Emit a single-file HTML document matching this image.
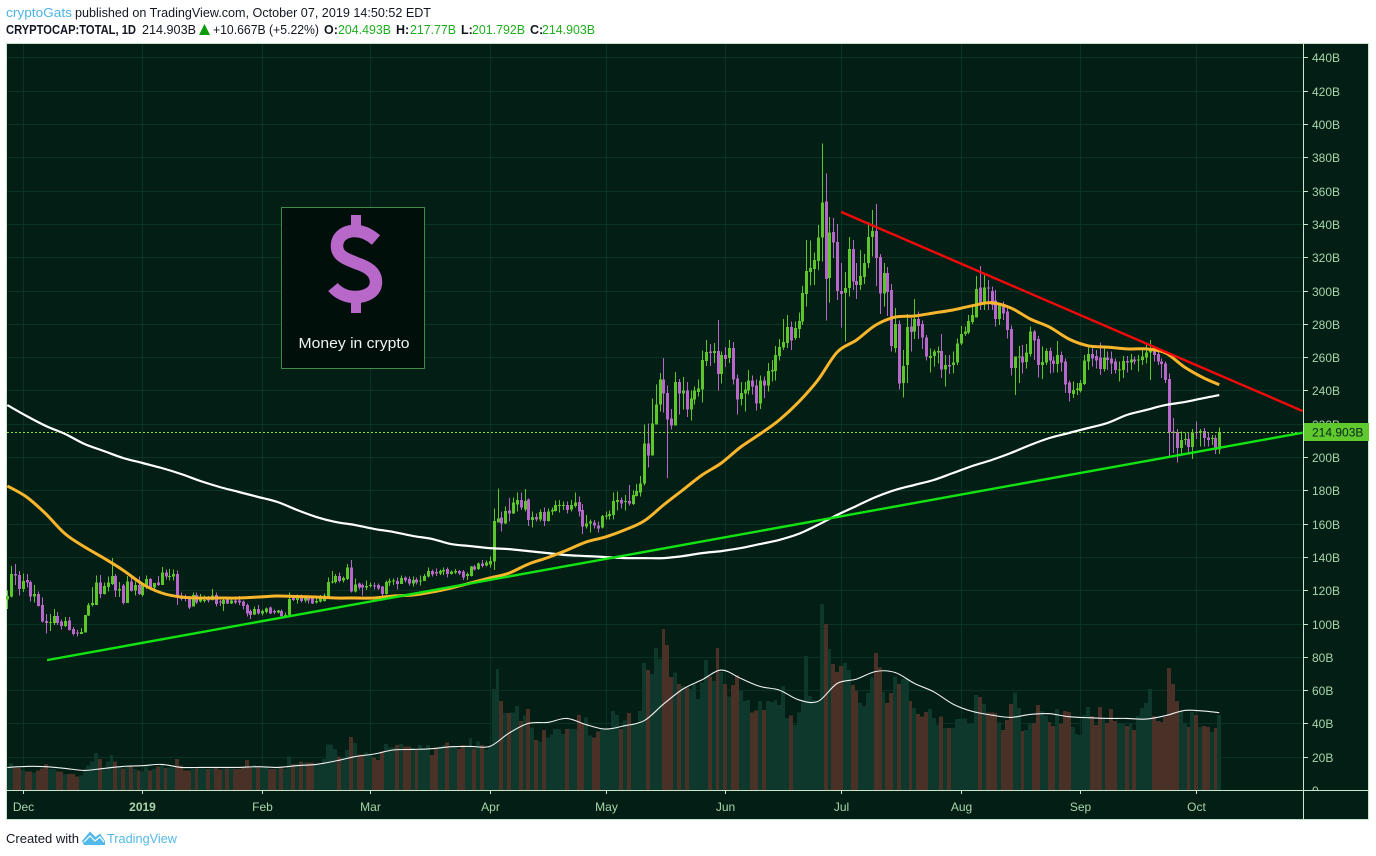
<!DOCTYPE html>
<html lang="en">
<head>
<meta charset="utf-8">
<title>CRYPTOCAP:TOTAL 1D chart</title>
<style>
html,body{margin:0;padding:0;background:#fff;}
body{width:1376px;height:856px;overflow:hidden;}
svg{display:block;font-family:"Liberation Sans",Arial,sans-serif;}
</style>
</head>
<body>
<svg id="chart" width="1376" height="856" viewBox="0 0 1376 856" xmlns="http://www.w3.org/2000/svg">
  <defs>
    <clipPath id="axis-clip"><rect x="1304" y="44" width="66" height="746"></rect></clipPath>
  </defs>
  <rect x="0" y="0" width="1376" height="856" fill="#ffffff"></rect>

  <g font-size="12.5">
    <text x="6" y="17" fill="#4cb3e6" textLength="66" lengthAdjust="spacingAndGlyphs">cryptoGats</text>
    <text x="75" y="17" fill="#131722" textLength="356" lengthAdjust="spacingAndGlyphs">published on TradingView.com, October 07, 2019 14:50:52 EDT</text>
    <text x="6" y="34" fill="#131722" font-weight="bold" textLength="130" lengthAdjust="spacingAndGlyphs">CRYPTOCAP:TOTAL, 1D</text>
    <text x="142" y="34" fill="#131722" textLength="54" lengthAdjust="spacingAndGlyphs">214.903B</text>
    <polygon points="199,35 210,35 204.5,24" fill="#0a9c0a"></polygon>
    <text x="213" y="34" fill="#131722" textLength="106" lengthAdjust="spacingAndGlyphs">+10.667B (+5.22%)</text>
    <text x="324" y="34" fill="#131722" font-weight="bold">O:</text>
    <text x="338" y="34" fill="#1fae1f" textLength="53" lengthAdjust="spacingAndGlyphs">204.493B</text>
    <text x="396" y="34" fill="#131722" font-weight="bold">H:</text>
    <text x="410" y="34" fill="#1fae1f" textLength="46" lengthAdjust="spacingAndGlyphs">217.77B</text>
    <text x="461" y="34" fill="#131722" font-weight="bold">L:</text>
    <text x="472" y="34" fill="#1fae1f" textLength="53" lengthAdjust="spacingAndGlyphs">201.792B</text>
    <text x="530" y="34" fill="#131722" font-weight="bold">C:</text>
    <text x="542" y="34" fill="#1fae1f" textLength="53" lengthAdjust="spacingAndGlyphs">214.903B</text>
  </g>

  <rect x="6.5" y="43.5" width="1362" height="776" fill="#031e14" stroke="#c8e6c9" stroke-width="1"></rect>
  <g id="grid"></g>
  <g id="volume"></g>
  <g id="volume-ma"></g>
  <g id="candles"></g>
  <g id="lines"></g>
  <g id="trends"></g>
  <g id="axes"></g>

  <g>
    <rect x="281.5" y="207.5" width="143" height="161" fill="#010f0a" stroke="#3f8a48" stroke-width="1"></rect>
    <g fill="none" stroke="#b768c9">
      <path stroke-width="12.5" d="M376 240 C369 234 362 231 355 231 C343 231 337 238 337 246 C337 256 346 259 356 263 C368 267 376 272 376 282 C376 292 366 297 355 297 C346 297 338 293 333 287"></path>
      <rect x="351" y="215" width="10" height="13" fill="#b768c9" stroke="none"></rect>
      <rect x="351" y="300" width="10" height="13" fill="#b768c9" stroke="none"></rect>
    </g>
    <text x="298.5" y="348" fill="#f0f3f1" font-size="14.5" font-weight="500" textLength="111" lengthAdjust="spacingAndGlyphs">Money in crypto</text>
  </g>

  <g>
    <text x="6" y="843" font-size="12.5" fill="#131722" textLength="73" lengthAdjust="spacingAndGlyphs">Created with</text>
    <path fill="#53b9e8" d="M82 841 L90 831.5 L95.5 837 L100 833.5 L105 841 L105 845 L84 845 Z"></path>
    <path fill="none" stroke="#ffffff" stroke-width="1.2" d="M84 842 L90 836 L95 841 L100 837 L104 842"></path>
    <text x="107" y="843" font-size="12.5" fill="#53b9e8" textLength="70" lengthAdjust="spacingAndGlyphs">TradingView</text>
  </g>
</svg>
<script>
const opens = [
114.5,116.2,129.8,129,120.7,126,125,116.2,117.8,111,
101.5,100.6,100.4,104.5,101.2,98.5,101.7,96.8,94.5,93.8,
94.5,104.8,111.2,111.2,124.5,117.8,121.8,123.8,128.5,119.8,
122.8,112.2,125.2,119.8,123.2,117.2,122.2,126.8,121.5,124.5,
123.2,130.5,128.4,128.2,129.8,116.5,116.1,115.1,110.1,117.1,
113.1,113.7,116.1,114.1,117.1,113.1,111.7,114.5,112.1,113.7,
113.7,113.1,111.1,107.5,105.5,108.7,106.1,106.9,109.5,107.5,
106.5,107.5,104.5,105.1,115.5,114.1,116.7,113.7,115.5,115.1,
112.5,113.1,113.5,115.7,124.9,124.9,128.5,125.7,126.7,133.7,
119.1,124.1,123.1,121.7,122.5,122.9,123.1,122.1,117.7,124.7,
125.1,125.5,123.7,127.5,126.7,124.1,126.5,125.7,125.5,128.1,
131.5,130.9,130.1,131.1,132.7,129.7,130.7,131.5,131.1,128.5,
128.5,134.1,132.7,136.1,134.7,135.5,137.2,160.8,163.6,160.2,
167.8,166.2,171.6,174.2,168.6,174.6,162.2,164,162.6,167,
161.6,167.2,167.6,170.8,170.8,171.2,168.6,170.6,173,168.2,
158.2,160,160.6,159,157.8,164.6,164.6,165.2,173,174.2,
173,173.6,171.8,176.6,178.8,184,208,200.8,219.4,231.4,
246.4,238.4,223,218.8,245,238,239.8,228.4,234.4,239,
240.4,257.8,263.4,262.6,263.8,250,261.4,259.4,265.6,247,
234.8,238,239.8,245.8,242.8,232,245.8,242.8,251.4,251.8,
260.8,265.8,268.4,278.2,271.4,277,281.4,298,311.2,313,
317.8,331.8,353.4,307.4,335.2,329.2,299.6,298.4,301.4,325,
305.8,303.4,308,316.4,332,335.8,320.2,298.2,310.6,300.4,
265.6,280,244.4,255.4,278.4,275.4,283,279.9,271.7,259.5,
260.7,262.7,263.7,252.7,255.3,255.3,256.7,268.3,273.9,274.7,
281.1,283.9,301.9,291.5,301.9,299.7,293.9,282.9,291.3,287.3,
276.9,253.5,259.9,260.3,257.1,261.9,275.3,270.9,255.3,256.7,
263.7,257.9,255.9,261.3,257.3,244.7,237.9,240.1,239.5,243.9,
257.3,261.9,260.7,259.7,252.9,259.7,259.3,257.3,251.9,252.3,
257.7,256.7,258.7,257.9,258.3,259.9,262.7,266.3,261.9,257.3,
256.3,246.9,215.3,214.9,205.3,210.1,210.7,205.9,215.1,214.7,
215.7,211.7,211.1,211.3,204.493];
const closes = [
116.5,129.8,128.8,120.7,125.5,124.5,116.2,117.8,110.5,101.2,
100.3,100.8,104.5,100.2,98.5,101.5,96.2,93.8,94.2,94.8,
105.2,111.2,112.2,124.5,117.8,122.5,124.5,128.5,119.8,120.8,
112.2,125.2,119.5,123.2,117.8,124.2,126.8,121.5,124.2,123.2,
130.5,128.2,128.6,129.8,115.5,114.7,114.7,109.7,117.1,112.5,
115.7,114.1,113.7,116.7,111.7,112.5,114.1,112.1,113.7,112.5,
112.5,110.5,106.1,105.1,108.7,106.1,107.5,109.1,106.1,106.7,
107.7,104.5,105.1,114.7,114.1,116.1,113.5,115.7,113.7,112.1,
113.5,115.5,116.7,124.9,125.3,128.5,125.5,127.3,133.7,119.1,
123.5,121.7,121.7,122.5,123.1,122.5,121.1,117.7,124.9,125.5,
125.7,123.7,127.3,125.7,124.1,126.1,124.5,125.9,128.5,131.5,
129.5,130.1,131.5,132.1,129.7,131.1,131.5,130.1,127.7,129.7,
134.1,132.5,136.1,134.5,136.5,137.5,161.6,163.2,160.2,167.6,
166.2,172.6,174.2,169.8,173.6,162.2,164,162.6,167,161.6,
167.2,168.2,171.2,171.2,171.2,168.2,171.2,172.6,167.2,158.2,
160,161.2,159,157.2,164.6,165,165.8,173.6,174.2,172.2,
173.6,172.2,177.2,179.6,184.2,208,200.8,220,231.4,246.4,
238,222.4,218.8,245,238,239.8,228.4,235,239.8,241,
258.4,263.2,262.6,263.8,250,261.4,259,265.6,246.4,234.4,
238.4,240.4,245.8,242.4,232,245.8,242.8,251.8,252.4,261.4,
266,269,278.2,270,277.4,281.8,298.4,311.8,313.6,318.4,
331.8,352.8,307,334.8,328.8,299.6,298,301.6,325,305.4,
303.4,308.8,316.4,332.2,335.8,319.6,298.2,310.6,299,266.8,
280,244,254.8,278.2,275.2,283,278.8,271.7,260.3,260.7,
263.3,263.7,252.7,255.3,254.3,256.7,268.3,273.9,275.3,281.7,
285.3,300.9,291.3,301.9,301.1,291.3,282.9,291.3,286.3,276.3,
253.5,260.3,260.3,256.9,262.7,275.3,269.9,255.3,257.1,263.7,
257.9,255.9,261.3,256.7,243.5,238.3,240.3,241.1,244.3,257.9,
261.9,259.3,257.9,252.9,259.7,258.3,256.3,252.3,252.7,257.7,
256.7,258.7,257.3,258.7,260.3,262.7,265.3,261.3,257.3,255.9,
246.3,214.9,214.3,205.3,210.3,210.7,205.9,214.7,214.9,215.7,
211.3,210.3,211.3,204.3,214.903];
const highs = [
119.7,134.5,135.7,131.5,130,129.8,125.7,123.2,119.2,115.7,
105.7,105.7,108.7,107,102.5,103.8,103.8,97.8,96.2,97.2,
105.2,112.2,121.8,128.8,129,124.5,128.2,139.2,129.8,124.8,
123.8,128.5,129.2,125.2,128.2,124.5,128.8,127.2,124.2,128.5,
133.8,132.5,132.8,132.5,131.8,118.7,117.5,116.1,118.7,118.7,
117.7,116.7,116.5,120.7,118.5,114.1,116.1,115.5,115.1,115.7,
116.5,113.7,112.1,108.5,110.1,111.1,108.5,109.7,110.1,108.5,
108.1,108.5,106.7,118.7,117.1,117.5,117.5,116.1,116.5,115.7,
115.1,117.1,118.1,127.7,131.5,129.7,130.5,128.1,135.7,138.1,
127.1,124.7,124.1,125.7,124.7,124.5,124.1,122.5,125.7,127.1,
127.1,127.7,128.9,128.1,128.1,128.1,127.7,128.9,129.7,133.7,
132.5,133.1,132.5,133.7,133.7,131.7,132.7,132.1,132.1,130.5,
134.5,135.1,136.7,138.1,137.7,140.1,169.2,181.2,167.2,170.2,
175.4,175.8,178.8,178.8,180.8,175.2,167.2,166.2,168.6,169.6,
169.2,169.6,173.8,174.2,173.2,173.2,174.2,178.8,176.2,171.8,
165.2,162.6,162.2,161.2,165.2,167.2,167.8,178.8,179.2,175.8,
177.2,183.2,179.8,183.8,188.6,219.4,220,235,243.4,250.4,
259.4,242.8,228.8,251,246.8,248,245,239.8,242.4,246.4,
264,270.4,268,268.4,282.4,263.4,266,270.4,269.2,249.4,
245,245,252.4,248.8,246.4,248.8,248.4,256.4,258.4,266.8,
270.8,282.8,285.4,281.4,281.4,286.8,302.8,330.4,330,322.8,
339.4,388.4,370.4,344,343.4,340,316.4,311,332,330.4,
316.4,324.4,322,341.2,348.4,352,322,316.4,314.2,304,
289.4,282,264.4,286,283.4,295,287.4,282,273.3,265.3,
264.7,266.3,273.9,261.3,261.3,263.3,271.3,278.7,278.3,285.3,
290.3,308.7,314.7,309.3,306.3,302.3,300.3,292.3,293.3,291.3,
278.9,260.3,266.7,267.3,267.9,278.3,276.3,272.7,266.3,265.3,
265.9,260.3,269.7,263.3,259.3,245.9,245.3,244.3,246.3,261.3,
267.3,267.3,264.3,268.9,265.3,263.3,263.3,259.3,257.3,260.7,
260.7,261.9,260.3,261.3,264.3,267.9,270.3,266.7,263.9,259.3,
257.3,250.3,223.3,216.7,215.3,214.7,214.3,216.7,221.3,216.7,
217.3,214.3,213.3,213.3,217.77];
const lows = [
108.7,115.5,123.2,116.7,119,121.7,113.2,112.5,110.2,100.5,
94,95.5,99.2,99.2,96.5,97.8,95.8,92.8,92.2,93.8,
94.5,104.5,110.2,111.2,115.2,117.5,119.2,123.2,115.8,115.8,
111.5,112.2,119.2,116.8,117.2,116.2,120.8,120.5,120.2,122.5,
123.2,126.5,125.8,125.8,111.2,113.7,113.1,108.7,110.1,111.7,
112.7,112.5,112.7,113.7,110.1,110.5,107.5,111.7,111.7,111.7,
111.1,108.5,104.1,102.7,105.1,105.5,104.7,106.1,105.7,105.7,
106.1,103.5,104.1,105.1,113.5,112.1,112.7,112.7,112.1,111.7,
112.1,112.7,113.1,115.7,124.1,124.1,124.5,124.7,126.1,118.5,
118.7,120.5,116.7,120.1,121.7,120.5,120.1,116.5,117.5,122.5,
123.1,120.5,123.7,124.5,122.9,122.1,123.5,122.7,125.5,127.7,
128.1,128.5,129.1,129.1,127.5,129.3,129.7,129.1,126.1,126.1,
128.1,131.7,132.1,133.5,134.1,133.7,132,160.8,155.2,159.8,
161.2,165.8,167.2,168.2,167.2,158.6,157.6,161.2,161.2,158.6,
161.2,165.2,167.2,166.6,168.2,166.2,167.2,169.8,164.2,153.8,
157.2,154.8,157.2,154.6,157.2,162.6,162.6,162.6,167.8,169.2,
167.8,171,171.2,176.2,176.2,183,193.8,200.8,219.4,227.4,
226.8,187.4,216.4,218.8,225.4,228.4,224,222,231.4,236.4,
232.8,254.8,254.8,256.4,240,244,254,256.4,243.4,225.4,
230.8,227.4,237.4,237.4,227.8,228.8,235.4,239.4,245.4,246,
258,264.4,265.4,264.4,270.4,271.4,279.4,290.4,303,303.4,
312.4,317.4,282,292.8,319.4,294.4,277.8,269.4,296.4,300.4,
295,300.4,304,313.6,320.4,302.8,286,290.4,284.8,263.4,
262.8,240.4,235.8,244.4,263.4,270.8,271,265,257.9,250.7,
254.3,256.3,247.3,242.3,249.9,250.3,255.3,267.3,272.7,273.9,
279.9,283.9,288.3,288.3,288.3,288.3,278.3,279.3,282.3,271.3,
248.9,237.3,244.3,250.3,253.3,260.3,258.3,247.7,246.7,255.3,
250.3,250.7,250.7,251.3,238.3,233.3,235.3,237.3,238.7,243.3,
252.3,254.3,253.3,249.3,251.3,252.3,249.9,250.3,245.3,247.3,
250.7,252.3,255.7,251.3,255.3,256.3,246.3,257.3,255.3,247.3,
244.3,200.3,202.3,196.7,201.9,207.3,202.3,198.7,210.7,206.3,
206.3,206.3,207.3,201.9,201.792];
const volumes = [
13.6,16.2,13.2,13.2,12,11.2,11.2,10.6,11.6,13,
15.6,12.6,12.6,11,11,9.6,9.6,9.6,8,8.6,
12.2,14.6,17,22.2,18.6,13,17,21,17,14.2,
13,14.6,14.2,12.6,11.6,11,14,11.6,12.6,14,
15,13.2,13.6,13.6,18.6,14.6,11.6,11.6,13,13.6,
13,13,12.6,13,13.6,12.2,13,13,13,12.6,
12.6,13.6,18,14.2,15,13.6,13.6,13.6,12.6,12.6,
13,14.2,12.6,20,15.6,16,17,16.6,16.6,16.6,
15,15,18.6,27.2,27.2,24.6,20.2,19.6,24,31.8,
28.2,21.2,21.2,22.6,21.6,19.6,18,23.2,27.6,25.6,
25.6,27,27.6,26.2,26.2,25.2,24.2,27,24.2,27,
21,25.6,26.2,27,28.6,26.2,26.2,24.6,27,26.2,
31.2,25,29.2,27,24.2,26.2,60.6,72.6,53.4,46.2,
46.2,46.6,50.6,41.4,44.6,48.6,37.6,30,29,36,
31.6,33.2,36.6,36.6,33.6,36.6,36.6,36.6,45,39.6,
43.6,32.6,31.6,35.2,36.6,36.6,36.6,47.4,45,36.6,
41.6,46.2,39.6,39.6,47.4,76.2,72,69.6,85.2,78.6,
96.6,87,67.8,70.6,63.6,62.6,61.6,60.6,63.6,54.6,
64.6,78,68.2,65.6,85.2,71,63.6,56.2,63,69,
59.6,53.6,54.2,46.6,47.6,53.6,48,53.6,53,54,
51,62.2,43.2,44.6,39,46.6,53.6,80.6,56.6,54.2,
53,111.6,99.6,84.6,75.6,71,74.6,76.2,72,63,
59.6,52.6,50.6,58.2,67.6,82.2,73.6,59,52.2,58.2,
68.2,63.6,66.6,66.6,53.6,49.2,45.6,44,46.8,48.6,
43.2,39,44.2,37.2,37.2,37.2,42.6,43,43,39.6,
39.6,57,55.8,51.6,46.6,46.6,46.2,40.6,36,42,
51.6,58.6,49.2,35.4,36,40.2,40.2,51,47.4,44.6,
40.8,38.4,48.6,39.6,47.4,46.8,37.8,33.6,33,45,
49.8,44.4,39,49.8,42.6,40.2,48.6,41.4,40.2,39.6,
38.4,39.6,36,44.4,49.2,52.2,60.6,44.4,41.4,40.8,
43.8,73.2,63.6,53.4,47.4,40.2,37.8,46.8,45,37.8,
38.4,37.8,34.8,37.2,45];
/* Moving averages. */
const volumeAverage = [
13.6,14.2,14,13,11.8,13,14.2,14.6,15.4,13.6,13.6,13.6,13.6,14,13.6,14.6,
15.4,17.4,20,21.6,24,24.4,24.8,26,26.2,26.2,34.2,40,40.6,43,39.2,36.6,
38.6,41.6,51.6,60.6,66.2,72,67,62.2,60,54.2,53.2,64,66.6,71.2,70.6,64,
59,51.6,47.2,45,43.6,45.4,45.8,44,43.4,43,43,42.6,44.6,47.8,47.4,46.4];
const ma50 = [
182.6,176,165.8,153.8,146,139.3,132,123.7,118.3,115.9,115.3,115.3,115.3,115.9,116.5,116.2,
115.9,115.3,115.3,115.3,116.5,117.1,118.9,121.3,124.3,127.3,130.3,135.7,139.6,144.1,149,152,
156.2,161.6,171.2,180.2,189.2,196.4,206,213.8,222.2,233,246.2,263,270.3,279.3,284,284.7,
286.5,288.3,290.9,292.7,289.5,282.9,278,270.9,266.8,266,264.9,264.9,262.6,254,247.4,243.4];
const ma200 = [
231.2,224.6,218.6,213.8,207.8,203.6,199.4,196.4,193.4,189.8,185.6,182,179,176,173,168.2,
164,161,159.2,156.8,155,152.6,150.8,147.7,146.5,145.3,144.7,143.5,142.3,141.1,140.5,139.9,
139.3,139.3,139.3,140.5,142.3,143.5,145.3,147.7,150.2,153.8,159.2,165.2,170.6,176,180.2,183.2,
186.2,190.4,194.6,198.2,202.4,207.2,211.4,214.4,217.4,220.4,225.2,228.2,231.2,233,235.4,237.2];
const averageStep = 5;
const priceTicks = [0,20,40,60,80,100,120,140,160,180,200,220,240,260,280,300,320,340,360,380,400,420,440];
const monthLabels = ["Dec","2019","Feb","Mar","Apr","May","Jun","Jul","Aug","Sep","Oct"];
const monthBars = [4,35,66,94,125,155,186,216,247,278,308];
const supportBars = [10.3,335.6];
const supportValues = [78,214.6];
const resistanceBars = [216,335.6];
const resistanceValues = [347.2,227.6];
const lastPrice = 214.903;
const lastPriceLabel = "214.903B";

const SVG_NS = "http://www.w3.org/2000/svg";
const PANE_LEFT = 7, AXIS_X = 1303, AXIS_Y = 790;
function xScale(i){ return 7.3 + 3.86 * i; }
function yScale(v){ return AXIS_Y - 1.665 * v; }
function make(tag, parentId, attrs){
  const el = document.createElementNS(SVG_NS, tag);
  for (const k in attrs) el.setAttribute(k, attrs[k]);
  document.getElementById(parentId).appendChild(el);
  return el;
}
/* Smooth curve through the sampled values (Catmull-Rom). */
function linePath(values, step){
  const pts = values.map(function(v, k){
    return [xScale(Math.min(k * step, closes.length - 1)), yScale(v)];
  });
  let d = "M" + pts[0][0].toFixed(1) + " " + pts[0][1].toFixed(1);
  for (let k = 0; k < pts.length - 1; k++){
    const p0 = pts[Math.max(k - 1, 0)], p1 = pts[k], p2 = pts[k + 1], p3 = pts[Math.min(k + 2, pts.length - 1)];
    const c1x = p1[0] + (p2[0] - p0[0]) / 6, c1y = p1[1] + (p2[1] - p0[1]) / 6;
    const c2x = p2[0] - (p3[0] - p1[0]) / 6, c2y = p2[1] - (p3[1] - p1[1]) / 6;
    d += " C" + c1x.toFixed(1) + " " + c1y.toFixed(1) + " " + c2x.toFixed(1) + " " + c2y.toFixed(1) + " " + p2[0].toFixed(1) + " " + p2[1].toFixed(1);
  }
  return d;
}

/* grid */
priceTicks.forEach(function(v){
  const y = Math.round(yScale(v)) + 0.5;
  const el = make("line", "grid", {x1:PANE_LEFT, x2:AXIS_X, y1:y, y2:y, stroke:"#0b3325", "stroke-width":1});
  
  
});
monthBars.forEach(function(i){
  const x = Math.round(xScale(i) + 1) - 0.5;
  const el = make("line", "grid", {x1:x, x2:x, y1:44, y2:AXIS_Y, stroke:"#0b3325", "stroke-width":1});
  
  
});

/* volume bars */
volumes.forEach(function(v, i){
  const left = Math.max(PANE_LEFT, Math.round(xScale(i) - 1.93));
  const right = Math.round(xScale(i + 1) - 1.93);
  const top = yScale(v);
  const up = closes[i] >= opens[i];
  const el = make("rect", "volume", {x:left, y:top, width:right - left, height:AXIS_Y - top, fill: up ? "#0e382c" : "#4a3128", "shape-rendering":"crispEdges"});
  
  
});

/* volume average */
const volLine = make("path", "volume-ma", {d:linePath(volumeAverage, averageStep), fill:"none", stroke:"#f2f2f2", "stroke-width":1.1});



/* candles */
closes.forEach(function(c, i){
  const up = c >= opens[i];
  const color = up ? "#5cc62b" : "#b767c9";
  const x = Math.round(xScale(i));
  const wick = make("rect", "candles", {x:x, y:yScale(highs[i]), width:1, height:yScale(lows[i]) - yScale(highs[i]), fill:color, "shape-rendering":"crispEdges"});
  
  
  const top = yScale(Math.max(opens[i], c));
  const h = Math.max(1, yScale(Math.min(opens[i], c)) - top);
  const body = make("rect", "candles", {x:x - 1, y:top, width:3, height:h, fill:color, "shape-rendering":"crispEdges"});
  
  
});

/* last price line */
const lastY = yScale(lastPrice);
const priceLine = make("line", "lines", {x1:PANE_LEFT, x2:AXIS_X, y1:Math.round(lastY) + 0.5, y2:Math.round(lastY) + 0.5, stroke:"#8fdf2d", "stroke-width":1, "stroke-dasharray":"2 2"});



/* moving averages */
const whiteLine = make("path", "lines", {d:linePath(ma200, averageStep), fill:"none", stroke:"#ffffff", "stroke-width":2.2, "stroke-linejoin":"round"});


const orangeLine = make("path", "lines", {d:linePath(ma50, averageStep), fill:"none", stroke:"#f9b52b", "stroke-width":3, "stroke-linejoin":"round"});



/* trend lines */
const support = make("line", "trends", {x1:xScale(supportBars[0]), y1:yScale(supportValues[0]), x2:xScale(supportBars[1]), y2:yScale(supportValues[1]), stroke:"#12e312", "stroke-width":2.4});


const resistance = make("line", "trends", {x1:xScale(resistanceBars[0]), y1:yScale(resistanceValues[0]), x2:xScale(resistanceBars[1]), y2:yScale(resistanceValues[1]), stroke:"#f20a0a", "stroke-width":2.4});



/* axes */
const timeAxis = make("line", "axes", {x1:PANE_LEFT, x2:1368, y1:AXIS_Y + 0.5, y2:AXIS_Y + 0.5, stroke:"#c8e6c9", "stroke-width":1});


const priceAxis = make("line", "axes", {x1:AXIS_X + 0.5, x2:AXIS_X + 0.5, y1:44, y2:819, stroke:"#c8e6c9", "stroke-width":1});



priceTicks.forEach(function(v){
  const y = Math.round(yScale(v)) + 0.5;
  const tick = make("line", "axes", {x1:AXIS_X, x2:AXIS_X + 5, y1:y, y2:y, stroke:"#c8e6c9", "stroke-width":1});
  
  
  const label = make("text", "axes", {x:1312, y:y + 4.5, fill:"#a8d5aa", "font-size":12, "clip-path":"url(#axis-clip)"});
  label.textContent = v === 0 ? "0" : v + "B";
  
  
});
monthBars.forEach(function(i, k){
  const x = Math.round(xScale(i) + 1) - 0.5;
  const tick = make("line", "axes", {x1:x, x2:x, y1:AXIS_Y, y2:AXIS_Y + 4, stroke:"#c8e6c9", "stroke-width":1});
  
  
  const isYear = monthLabels[k] === "2019";
  const label = make("text", "axes", {x:x, y:811, fill:"#a8d5aa", "font-size":12, "text-anchor":"middle", "font-weight": isYear ? "bold" : "normal"});
  label.textContent = monthLabels[k];
  
  
});

/* last price tag */
const tag = make("rect", "axes", {x:AXIS_X + 1, y:Math.round(lastY) - 9, width:65, height:18, fill:"#5fc92d"});


const tagText = make("text", "axes", {x:1312, y:Math.round(lastY) + 4.5, fill:"#06251a", "font-size":12});
tagText.textContent = lastPriceLabel;


</script>
</body>
</html>
